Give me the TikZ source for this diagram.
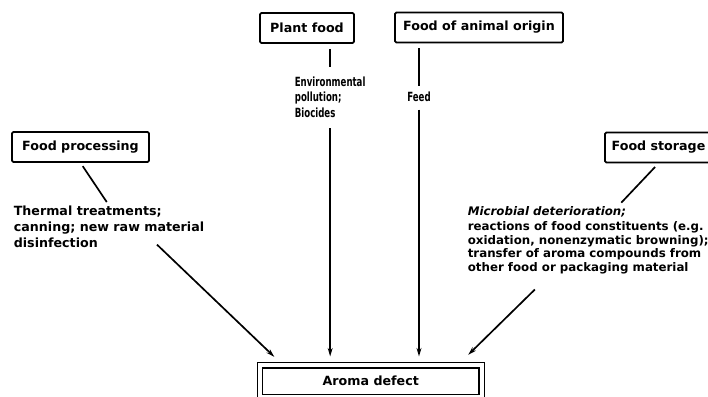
\documentclass[tikz,border=0pt]{standalone}
\usepackage{fontspec}
\setmainfont{DejaVu Sans}
\newfontfamily\narrowfont[FakeStretch=0.68]{DejaVu Sans}
\usetikzlibrary{arrows.meta, calc}

\begin{document}
\begin{tikzpicture}[x=0.025cm, y=-0.025cm, line width=1.2pt,
    font=\bfseries\fontsize{9}{11.3}\selectfont,
    source/.style={draw, rounded corners=1pt, minimum height=0.75cm, inner sep=0pt},
    cause/.style={align=left, inner sep=0pt, anchor=west},
    narrow/.style={font=\narrowfont\bfseries\fontsize{9}{11}\selectfont},
    arr/.style={-{Stealth[length=6pt, width=3.5pt]}}]
  \useasboundingbox (0,0) rectangle (708,396);

  % sources
  \node[source, minimum width=2.35cm] (plant) at (307,28) {Plant food};
  \node[source, minimum width=4.2cm] (animal) at (479,27.5) {Food of animal origin};
  \node[source, minimum width=3.425cm] (proc) at (80.5,147) {Food processing};
  \node[source, minimum width=2.675cm] (stor) at (658.5,147.5) {Food storage};
  \node[draw, double, double distance=2.8pt, line width=0.9pt, minimum width=5.54cm,
    minimum height=0.79cm] (aroma) at (370.75,381.25) {Aroma defect};

  % causes
  \node[cause, narrow] (env) at (294,97) {Environmental\\pollution;\\Biocides};
  \node[cause, narrow, anchor=center] (feed) at (419,97) {Feed};
  \node[cause] (therm) at (13,227) {Thermal treatments;\\canning; new raw material\\disinfection};
  \node[cause, font=\bfseries\fontsize{8.4}{9.6}\selectfont] (micro) at (467,240)
    {\textit{Microbial deterioration;}\\[1.2pt]reactions of food constituents (e.g.\\
     oxidation, nonenzymatic browning);\\transfer of aroma compounds from\\
     other food or packaging material};

  % connectors
  \draw[shorten <=1.25mm, shorten >=2.25mm] (env.north |- plant.south) -- (env.north);
  \draw[arr, shorten <=2.5mm, shorten >=2.1mm] (env.south) -- (env.south |- aroma.north);
  \draw[shorten <=1.25mm, shorten >=1.25mm] (feed.north |- animal.south) -- (feed.north);
  \draw[arr, shorten <=1.75mm, shorten >=2.1mm] (feed.south) -- (feed.south |- aroma.north);
  \draw[shorten <=1mm, shorten >=1mm] (proc.south) -- (therm.north);
  \draw[arr] ($(therm.south)!0.5!(therm.south east)+(0,-4)$) -- ($(aroma.north west)+(15,-8)$);
  \draw[shorten <=1.25mm, shorten >=1mm] (stor.south) -- ($(micro.north)!0.25!(micro.north east)$);
  \draw[arr] ($(micro.south west)!0.56!(micro.south)+(0,15)$) -- ($(aroma.north east)+(-14,-10)$);
\end{tikzpicture}
\end{document}
